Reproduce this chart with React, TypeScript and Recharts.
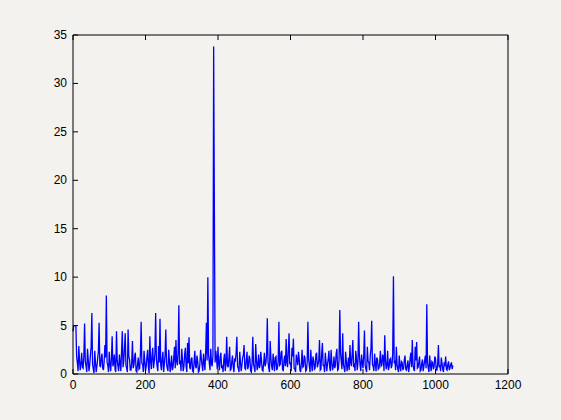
import React from 'react'
import { LineChart, Line, XAxis, YAxis } from 'recharts'

// samples are spaced this many x-units apart
const sampleStep = 2

const signal: number[] = [
    4.4, 5.0, 5.0, 5.0, 5.0, 1.8, 1.2, 0.3, 2.9, 1.4, 0.4, 1.1, 2.2, 0.7, 0.6, 1.9, 5.2, 1.3, 0.8, 0.2,
    2.6, 1.5, 0.3, 0.9, 1.9, 2.8, 6.3, 1.0, 0.5, 0.1, 2.4, 1.2, 0.2, 0.8, 1.6, 2.3, 5.3, 0.9, 0.7, 1.7,
    2.1, 0.6, 0.4, 1.3, 3.0, 1.7, 8.1, 1.2, 0.9, 0.2, 2.3, 1.0, 0.3, 1.6, 3.9, 0.8, 1.1, 2.0, 0.5, 0.2,
    4.4, 1.4, 0.8, 0.3, 2.0, 1.1, 0.3, 2.4, 4.4, 0.7, 1.3, 2.6, 4.2, 0.9, 0.6, 0.2, 4.6, 1.8, 1.5, 0.4,
    0.4, 1.2, 3.4, 0.6, 0.9, 1.8, 2.2, 0.3, 0.2, 1.0, 1.7, 0.5, 0.6, 2.1, 5.4, 1.1, 1.0, 0.2, 2.4, 1.3,
    0.3, 0.8, 1.8, 2.5, 0.7, 0.1, 3.9, 1.4, 0.5, 1.9, 2.7, 0.6, 1.2, 2.2, 6.3, 1.5, 0.8, 0.3, 2.9, 1.2,
    5.7, 0.9, 0.4, 1.6, 2.3, 0.2, 1.0, 2.0, 4.6, 1.1, 0.6, 0.3, 2.5, 1.4, 0.2, 0.9, 1.9, 0.4, 0.7, 1.7,
    2.8, 0.6, 3.5, 1.3, 0.9, 2.2, 7.1, 1.0, 1.4, 0.3, 2.6, 1.5, 0.3, 0.8, 2.0, 2.7, 0.8, 0.2, 3.2, 1.1,
    3.8, 0.7, 0.5, 1.5, 1.7, 0.3, 0.2, 1.2, 2.4, 0.8, 0.6, 1.9, 1.3, 0.2, 0.3, 1.0, 2.5, 1.6, 0.9, 0.3,
    2.1, 1.2, 0.4, 2.3, 5.3, 1.4, 10.0, 2.0, 1.2, 0.4, 2.6, 1.1, 0.8, 1.9, 33.8, 17.1, 1.2, 2.4, 1.6, 0.5,
    2.8, 1.0, 0.4, 1.8, 2.2, 0.6, 0.9, 0.2, 1.5, 2.1, 0.3, 1.1, 3.85, 0.9, 0.7, 1.6, 2.8, 0.4, 0.5, 1.3,
    1.9, 0.7, 0.2, 1.5, 1.4, 2.2, 3.85, 0.8, 0.6, 0.2, 2.3, 1.2, 0.3, 0.9, 1.7, 2.0, 3.0, 0.6, 0.5, 1.4,
    2.3, 0.5, 0.8, 1.9, 1.6, 0.3, 0.2, 1.2, 3.85, 1.0, 0.7, 0.2, 3.1, 1.5, 0.4, 0.9, 2.0, 0.6, 0.9, 2.3,
    1.4, 0.4, 0.3, 1.1, 2.2, 0.8, 1.1, 2.0, 5.75, 1.3, 0.6, 0.2, 3.4, 1.6, 0.8, 0.4, 2.1, 1.2, 0.3, 1.7,
    1.8, 0.4, 0.6, 1.3, 5.4, 0.9, 1.0, 2.2, 2.4, 0.5, 0.3, 1.4, 1.9, 0.8, 3.6, 1.2, 0.7, 2.5, 4.2, 1.0,
    1.2, 0.3, 2.7, 1.8, 3.65, 0.6, 0.5, 0.2, 2.0, 1.5, 0.9, 2.3, 1.6, 0.4, 0.2, 1.1, 2.5, 0.7, 0.8, 1.9,
    1.7, 0.3, 0.4, 1.2, 5.4, 1.6, 0.8, 0.2, 2.5, 1.1, 0.3, 1.8, 1.4, 0.5, 0.6, 2.0, 2.2, 0.7, 1.0, 1.4,
    3.5, 0.4, 0.5, 2.1, 3.2, 0.9, 0.9, 0.2, 2.2, 1.3, 0.3, 1.0, 1.5, 2.4, 0.7, 0.3, 2.5, 1.2, 0.4, 0.8,
    1.8, 0.6, 0.9, 2.1, 2.6, 0.4, 0.5, 1.5, 6.6, 2.2, 1.3, 0.5, 4.2, 1.0, 0.6, 0.2, 2.3, 1.4, 0.3, 0.9,
    1.7, 0.4, 3.0, 1.2, 0.8, 2.0, 3.5, 0.7, 1.1, 0.3, 2.4, 1.6, 0.4, 1.1, 5.4, 1.9, 0.9, 0.3, 2.0, 1.2,
    0.6, 1.8, 4.5, 0.9, 0.5, 0.2, 2.8, 1.3, 1.2, 0.4, 1.9, 2.6, 5.5, 1.0, 0.8, 0.3, 2.1, 1.1, 0.3, 1.7,
    1.5, 0.5, 0.6, 1.2, 2.4, 0.8, 0.9, 2.0, 1.7, 0.3, 4.0, 1.4, 0.5, 0.9, 2.4, 0.4, 0.7, 1.5, 1.6, 0.6,
    0.9, 2.2, 10.1, 1.1, 1.4, 0.4, 2.8, 1.0, 0.5, 0.2, 1.9, 0.8, 0.3, 1.3, 1.2, 0.4, 0.6, 1.5, 1.9, 0.5,
    0.4, 0.9, 1.4, 0.2, 0.8, 1.6, 2.2, 0.7, 3.5, 1.0, 0.5, 0.3, 2.8, 1.4, 3.3, 0.6, 0.7, 1.2, 1.8, 0.3,
    0.4, 1.1, 1.5, 0.3, 0.8, 1.4, 1.9, 0.6, 7.2, 1.2, 0.6, 0.2, 1.9, 0.9, 0.3, 1.3, 1.2, 0.5, 0.7, 1.8,
    1.6, 0.4, 0.4, 1.0, 3.0, 0.7, 0.9, 0.3, 1.7, 1.1, 0.5, 0.2, 1.2, 0.8, 1.8, 0.5, 0.4, 1.0, 1.3, 0.4,
    0.6, 1.0, 1.2, 0.5, 0.9
]

const xTicks = [0, 200, 400, 600, 800, 1000, 1200]
const yTicks = [0, 5, 10, 15, 20, 25, 30, 35]

const data = signal.map((v, i) => ({ x: i * sampleStep, y: v }))

const FONT = '"Liberation Sans", Arial, sans-serif'
const TICK = 5

// matlab style: tick marks point into the box
const BottomTick = (props: any) => {
    const { x, y, payload } = props
    return (
        <g>
            <line x1={x} x2={x} y1={y} y2={y - TICK} stroke="#000" />
            <text x={x} y={y + 15} textAnchor="middle" fontSize={12} fontFamily={FONT} fill="#000">
                {payload.value}
            </text>
        </g>
    )
}

const TopTick = (props: any) => {
    const { x, y } = props
    return <line x1={x} x2={x} y1={y} y2={y + TICK} stroke="#000" />
}

const LeftTick = (props: any) => {
    const { x, y, payload } = props
    return (
        <g>
            <line x1={x} x2={x + TICK} y1={y} y2={y} stroke="#000" />
            <text x={x - 6} y={y + 4} textAnchor="end" fontSize={12} fontFamily={FONT} fill="#000">
                {payload.value}
            </text>
        </g>
    )
}

const RightTick = (props: any) => {
    const { x, y } = props
    return <line x1={x} x2={x - TICK} y1={y} y2={y} stroke="#000" />
}

const App = () => {
    return (
        <div style={{ position: 'absolute', left: 0, top: 0, width: 561, height: 420, background: '#f3f2ef' }}>
            <LineChart
                width={561}
                height={420}
                data={data}
                margin={{ top: 34, right: 52, bottom: 16, left: 13 }}
            >
                <XAxis
                    dataKey="x"
                    type="number"
                    domain={[0, 1200]}
                    ticks={xTicks}
                    height={30}
                    tickSize={0}
                    tickMargin={0}
                    tickLine={false}
                    axisLine={{ stroke: '#000' }}
                    tick={<BottomTick />}
                />
                <XAxis
                    xAxisId="top"
                    orientation="top"
                    dataKey="x"
                    type="number"
                    domain={[0, 1200]}
                    ticks={xTicks}
                    height={1}
                    tickSize={0}
                    tickMargin={0}
                    tickLine={false}
                    axisLine={{ stroke: '#000' }}
                    tick={<TopTick />}
                />
                <YAxis
                    type="number"
                    domain={[0, 35]}
                    ticks={yTicks}
                    width={60}
                    tickSize={0}
                    tickMargin={0}
                    tickLine={false}
                    axisLine={{ stroke: '#000' }}
                    tick={<LeftTick />}
                />
                <YAxis
                    yAxisId="right"
                    orientation="right"
                    type="number"
                    domain={[0, 35]}
                    ticks={yTicks}
                    width={1}
                    tickSize={0}
                    tickMargin={0}
                    tickLine={false}
                    axisLine={{ stroke: '#000' }}
                    tick={<RightTick />}
                />
                <Line
                    type="linear"
                    dataKey="y"
                    stroke="#0000ff"
                    strokeWidth={1.3}
                    dot={false}
                    isAnimationActive={false}
                />
            </LineChart>
        </div>
    )
}

export default App
